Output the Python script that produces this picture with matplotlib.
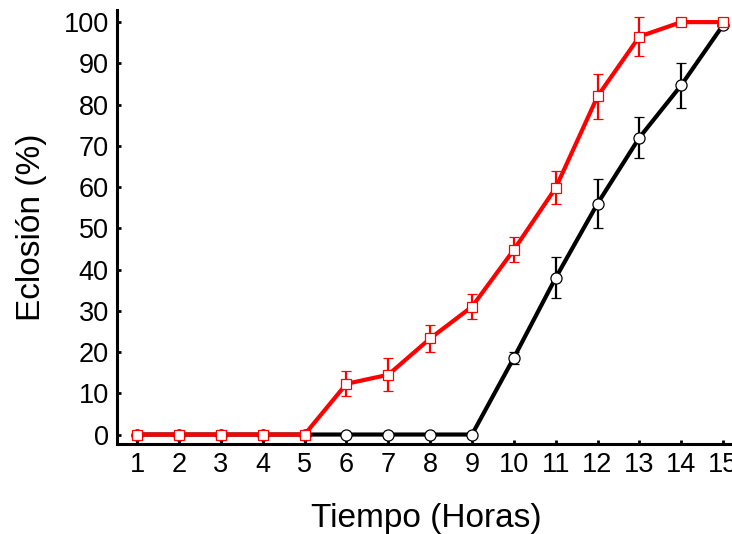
import matplotlib.pyplot as plt
import numpy as np

plt.rcParams['font.family'] = ['Liberation Sans', 'DejaVu Sans']

# hatching time (hours) and cumulative hatching (%)
horas = [1, 2, 3, 4, 5, 6, 7, 8, 9, 10, 11, 12, 13, 14, 15]

rojo = [0, 0, 0, 0, 0, 12.3, 14.5, 23.3, 31, 44.8, 59.8, 82, 96.5, 100, 100]
rojo_err = [0, 0, 0, 0, 0, 3, 4, 3.3, 3, 3, 4, 5.5, 4.8, 0, 0]

negro = [0, 0, 0, 0, 0, 0, 0, 0, 0, 18.6, 38, 56, 72, 84.7, 99.3]
negro_err = [0, 0, 0, 0, 0, 0, 0, 0, 0, 1.5, 5, 6, 5, 5.5, 0]

fig = plt.figure(figsize=(7.32, 5.34), dpi=100)
ax = fig.add_axes([0.16, 0.1685, 0.845, 0.8125])

ax.errorbar(horas, negro, yerr=negro_err, color='black', lw=3,
            elinewidth=1.6, capsize=3.5, capthick=2,
            marker='o', ms=8, mfc='white', mec='black', mew=0.9, zorder=2)
ax.errorbar(horas, rojo, yerr=rojo_err, color='red', lw=3,
            elinewidth=1.6, capsize=3.5, capthick=2,
            marker='s', ms=7.5, mfc='white', mec='red', mew=0.9, zorder=3)

ax.set_xlim(0.52, 15.3)
ax.set_ylim(-2.3, 102.9)
ax.set_xticks(horas)
ax.set_yticks(np.arange(0, 101, 10))

for s in ['top', 'right']:
    ax.spines[s].set_visible(False)
for s in ['left', 'bottom']:
    ax.spines[s].set_linewidth(2.2)

ax.tick_params(direction='in', length=3, width=2, labelsize=19.5, pad=6)
ax.set_xlabel('Tiempo (Horas)', fontsize=24, labelpad=18)
ax.set_ylabel('Eclosión (%)', fontsize=24, labelpad=12)

fig.savefig('out.png', dpi=100)
